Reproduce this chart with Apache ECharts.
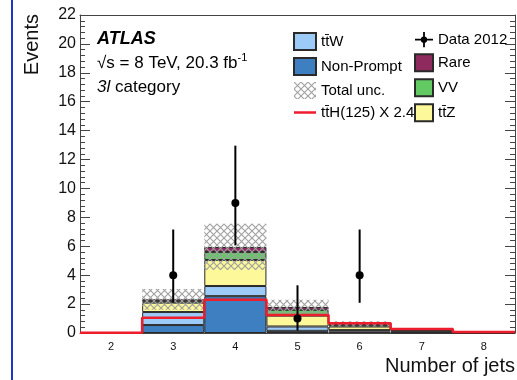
<!DOCTYPE html>
<html>
<head>
<meta charset="utf-8">
<script src="https://cdn.jsdelivr.net/npm/echarts@6/dist/echarts.min.js"></script>
<style>
html,body{margin:0;padding:0;background:#fff;}
#chart{width:517px;height:380px;}
</style>
</head>
<body>
<div id="chart"></div>
<script>
// ---- data ----
const categories = ['2', '3', '4', '5', '6', '7', '8'];
const binCenters = [2, 3, 4, 5, 6, 7, 8];
const nonPrompt = [0, 0.55, 2.55, 0.15, 0.10, 0.03, 0.01];
const ttW       = [0, 0.90, 0.70, 0.30, 0.10, 0.05, 0.01];
const ttZ       = [0, 0.65, 1.80, 0.75, 0.25, 0.10, 0.02];
const vv        = [0, 0.10, 0.55, 0.40, 0.08, 0.03, 0.005];
const rare      = [0, 0.13, 0.35, 0.20, 0.10, 0.05, 0.01];
const totalUnc  = [0, 0.72, 1.60, 0.50, 0.18, 0.06, 0.02];
const ttH       = [0.02, 1.06, 2.30, 1.25, 0.67, 0.27, 0.07];
const dataVal   = [0, 4, 9, 1, 4, 0, 0];
const dataLow   = [0, 2.09, 6.06, 0.17, 2.09, 0, 0];
const dataHigh  = [0, 7.16, 12.96, 3.30, 7.16, 0, 0];
const yTicks = {min: 0, max: 22, interval: 2};

const FONT = '"Liberation Sans", Arial, Helvetica, sans-serif';
const chart = echarts.init(document.getElementById('chart'), null, {renderer: 'canvas'});

// hatch pattern
const pc = document.createElement('canvas');
pc.width = 7; pc.height = 7;
const g = pc.getContext('2d');
g.strokeStyle = '#a0a0a0';
g.lineWidth = 1.1;
g.beginPath();
g.moveTo(0, 0); g.lineTo(7, 7);
g.moveTo(7, 0); g.lineTo(0, 7);
g.stroke();
const hatch = {image: pc, repeat: 'repeat'};

const total = categories.map((_, i) => nonPrompt[i] + ttW[i] + ttZ[i] + vv[i] + rare[i]);
const uncBase = total.map((t, i) => Math.max(0, t - totalUnc[i]));
const uncBand = total.map((t, i) => t + totalUnc[i] - uncBase[i]);

const stepData = [];
binCenters.forEach((c, i) => { stepData.push([c - 0.5, ttH[i]]); stepData.push([c + 0.5, ttH[i]]); });

const dataPts = [];
dataVal.forEach((v, i) => { if (v > 0) dataPts.push([i, v, dataLow[i], dataHigh[i]]); });

const border = {borderColor: '#2a2a2a', borderWidth: 1};
function stackBar(name, arr, color) {
  return {
    name: name, type: 'bar', stack: 'bkg', data: arr,
    xAxisIndex: 0, yAxisIndex: 0,
    barCategoryGap: 0, barGap: '-100%',
    itemStyle: Object.assign({color: color}, border),
    emphasis: {disabled: true}, animation: false
  };
}

const axisCol = '#444';
const lineIcon = 'path://M0,7.5 L22,7.5 L22,10 L0,10 Z';
const option = {
  animation: false,
  textStyle: {fontFamily: FONT},
  grid: {left: 80, right: 2, top: 15, bottom: 47, containLabel: false},
  xAxis: [
    {type: 'category', data: categories, position: 'bottom',
     axisLine: {onZero: false, lineStyle: {color: axisCol, width: 1}},
     axisTick: {alignWithLabel: true, inside: true, length: 8, lineStyle: {color: axisCol}},
     axisLabel: {fontFamily: FONT, fontSize: 11, color: '#111', margin: 8},
     splitLine: {show: false}},
    {type: 'category', data: categories, position: 'top',
     axisLine: {onZero: false, lineStyle: {color: axisCol, width: 1}},
     axisTick: {alignWithLabel: true, inside: true, length: 8, lineStyle: {color: axisCol}},
     axisLabel: {show: false}, splitLine: {show: false}},
    {type: 'value', min: 1.5, max: 8.5, show: false}
  ],
  yAxis: [
    {type: 'value', min: yTicks.min, max: yTicks.max, interval: yTicks.interval, position: 'left',
     axisLine: {show: true, onZero: false, lineStyle: {color: axisCol, width: 1}},
     axisTick: {show: true, inside: true, length: 10, lineStyle: {color: axisCol}},
     minorTick: {show: true, splitNumber: 5, length: 5, lineStyle: {color: axisCol}},
     axisLabel: {fontFamily: FONT, fontSize: 16, color: '#111', margin: 4},
     splitLine: {show: false}},
    {type: 'value', min: yTicks.min, max: yTicks.max, interval: yTicks.interval, position: 'right',
     axisLine: {show: true, onZero: false, lineStyle: {color: axisCol, width: 1}},
     axisTick: {show: true, inside: true, length: 10, lineStyle: {color: axisCol}},
     minorTick: {show: true, splitNumber: 5, length: 5, lineStyle: {color: axisCol}},
     axisLabel: {show: false}, splitLine: {show: false}}
  ],
  legend: [
    {orient: 'vertical', left: 288, top: 27, itemWidth: 22, itemHeight: 17, itemGap: 6, icon: 'rect',
     textStyle: {fontFamily: FONT, fontSize: 15, color: '#000'}, selectedMode: false,
     data: ['tt\u0304W', 'Non-Prompt', 'Total unc.', {name: 'tt\u0304H(125) X 2.4', icon: lineIcon}]},
    {orient: 'vertical', left: 409, top: 27, itemWidth: 18, itemHeight: 17, itemGap: 6, icon: 'rect',
     textStyle: {fontFamily: FONT, fontSize: 15, color: '#000'}, selectedMode: false,
     data: [{name: 'Data 2012', icon: 'path://M0,7.5 L20,7.5 L20,9.5 L0,9.5 Z M9,0 L11,0 L11,17 L9,17 Z M10,5 A3.5,3.5 0 1,1 9.99,5 Z'},
            'Rare', 'VV', 'tt\u0304Z']}
  ],
  graphic: [
    {type: 'line', shape: {x1: 12, y1: 0, x2: 12, y2: 380}, style: {stroke: '#1f35c4', lineWidth: 2}},
    {type: 'text', x: 22, y: 14, rotation: Math.PI / 2,
     style: {text: 'Events', font: '20px ' + FONT, fill: '#111', align: 'right', verticalAlign: 'top'}},
    {type: 'text', x: 515, y: 356,
     style: {text: 'Number of jets', font: '20px ' + FONT, fill: '#111', align: 'right', verticalAlign: 'top'}},
    {type: 'text', x: 97, y: 39,
     style: {text: 'ATLAS', font: 'italic bold 18px ' + FONT, fill: '#000', verticalAlign: 'middle'}},
    {type: 'text', x: 97, y: 63,
     style: {text: '\u221As = 8 TeV, 20.3 fb{sup|-1}', font: '17px ' + FONT, fill: '#000', verticalAlign: 'middle',
             rich: {sup: {fontSize: 11, fontFamily: FONT, verticalAlign: 'top', padding: [0, 0, 10, 0]}}}},
    {type: 'text', x: 97, y: 87,
     style: {text: '{it|3l} category', font: '17px ' + FONT, fill: '#000', verticalAlign: 'middle',
             rich: {it: {fontStyle: 'italic', fontSize: 17, fontFamily: FONT}}}}
  ],
  series: [
    stackBar('Non-Prompt', nonPrompt, '#3d7fc0'),
    stackBar('tt\u0304W', ttW, '#9ccbf8'),
    stackBar('tt\u0304Z', ttZ, '#fdf99b'),
    stackBar('VV', vv, '#63c963'),
    stackBar('Rare', rare, '#8f2a5f'),
    {name: '_uncbase', type: 'bar', stack: 'unc', data: uncBase, barCategoryGap: 0, barGap: '-100%',
     itemStyle: {color: 'rgba(0,0,0,0)'}, emphasis: {disabled: true}, silent: true},
    {name: 'Total unc.', type: 'bar', stack: 'unc', data: uncBand, barCategoryGap: 0, barGap: '-100%',
     itemStyle: {color: hatch}, emphasis: {disabled: true}},
    {name: 'tt\u0304H(125) X 2.4', type: 'line', xAxisIndex: 2, yAxisIndex: 0, data: stepData,
     symbol: 'none', lineStyle: {color: '#ee1d2c', width: 2.5}, itemStyle: {color: '#ee1d2c'}, z: 5},
    {name: 'Data 2012', type: 'custom', xAxisIndex: 0, yAxisIndex: 0, data: dataPts, z: 6,
     itemStyle: {color: '#000'},
     renderItem: function (params, api) {
       const x = api.value(0);
       const p = api.coord([x, api.value(1)]);
       const lo = api.coord([x, api.value(2)]);
       const hi = api.coord([x, api.value(3)]);
       return {type: 'group', children: [
         {type: 'line', shape: {x1: p[0], y1: lo[1], x2: p[0], y2: hi[1]}, style: {stroke: '#000', lineWidth: 2}},
         {type: 'circle', shape: {cx: p[0], cy: p[1], r: 4}, style: {fill: '#000'}}
       ]};
     }}
  ]
};
chart.setOption(option);
</script>
</body>
</html>
